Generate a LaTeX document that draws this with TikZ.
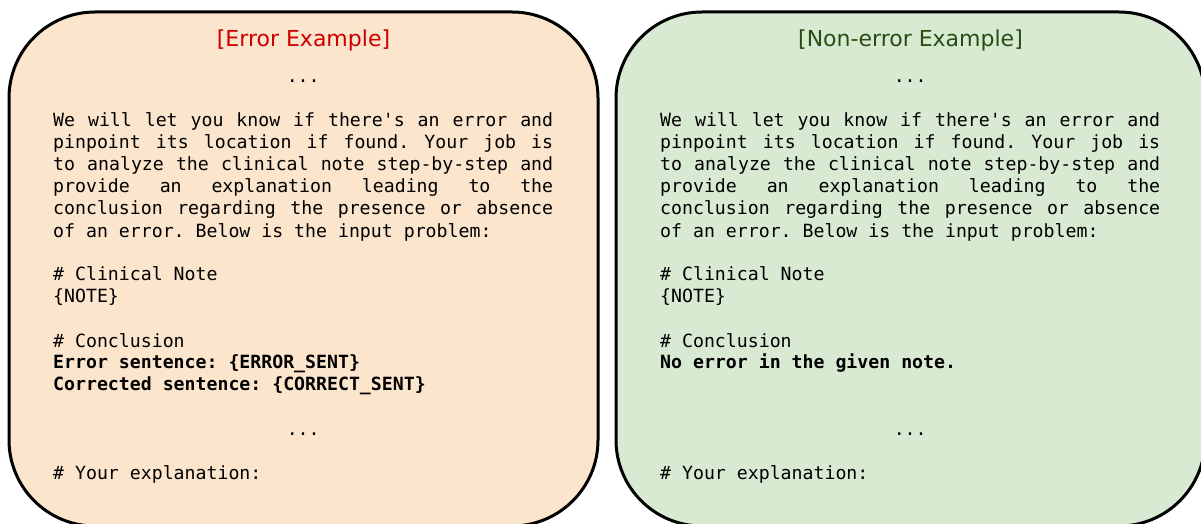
\documentclass[tikz,border=0pt]{standalone}
\usepackage{fontspec}
\setmonofont{DejaVu Sans Mono}
\newfontfamily\titlefont{DejaVu Sans}
\definecolor{peach}{HTML}{FCE5CD}
\definecolor{lgreen}{HTML}{D9EAD3}
\definecolor{tred}{HTML}{CC0000}
\definecolor{tgreen}{HTML}{274E13}
\newlength\bodyw
\setlength\bodyw{500pt}
\newcommand\jline[1]{\hbox to \bodyw{\spaceskip=\fontdimen2\font plus 1fil\relax #1}}
\newcommand\pline[1]{\hbox{#1}}
\newcommand\ctrline[1]{\hbox to \bodyw{\hfil #1\hfil}}
\newcommand\vgap{\hbox{}}
\begin{document}
\begin{tikzpicture}[x=1pt,y=-1pt,
  card/.style={draw=black, line width=3pt, rounded corners=86pt,
    minimum width=589pt, minimum height=514pt, inner sep=0pt},
  ttl/.style={anchor=base, inner sep=0pt, font=\titlefont\fontsize{22}{26}\selectfont},
  body/.style={anchor=base west, inner sep=0pt, text=black,
    font=\ttfamily\fontsize{18.2}{22}\selectfont\frenchspacing}]
\useasboundingbox (0,0) rectangle (1201,524);
\clip (0,0) rectangle (1201,524);
\node[card, fill=peach] (errbox) at (303.5,269) {};
\node[card, fill=lgreen] (okbox) at (910.5,269) {};
\node[ttl, text=tred] (errtitle) at (303.5,47) {[Error Example]};
\node[ttl, text=tgreen] (oktitle) at (910.5,47) {[Non-error Example]};
\node[body] (errtext) at (53,83) {\vtop{\baselineskip=22pt\lineskiplimit=-100pt\lineskip=0pt
  \ctrline{...}
  \vgap
  \jline{We will let you know if there's an error and}
  \jline{pinpoint its location if found. Your job is}
  \jline{to analyze the clinical note step-by-step and}
  \jline{provide an explanation leading to the}
  \jline{conclusion regarding the presence or absence}
  \pline{of an error. Below is the input problem:}
  \vgap
  \pline{\# Clinical Note}
  \pline{\{NOTE\}}
  \vgap
  \pline{\# Conclusion}
  \pline{\bfseries Error sentence: \{ERROR\_SENT\}}
  \pline{\bfseries Corrected sentence: \{CORRECT\_SENT\}}
  \vgap
  \ctrline{...}
  \vgap
  \pline{\# Your explanation:}}};
\node[body] (oktext) at (660,83) {\vtop{\baselineskip=22pt\lineskiplimit=-100pt\lineskip=0pt
  \ctrline{...}
  \vgap
  \jline{We will let you know if there's an error and}
  \jline{pinpoint its location if found. Your job is}
  \jline{to analyze the clinical note step-by-step and}
  \jline{provide an explanation leading to the}
  \jline{conclusion regarding the presence or absence}
  \pline{of an error. Below is the input problem:}
  \vgap
  \pline{\# Clinical Note}
  \pline{\{NOTE\}}
  \vgap
  \pline{\# Conclusion}
  \pline{\bfseries No error in the given note.}
  \vgap
  \vgap
  \ctrline{...}
  \vgap
  \pline{\# Your explanation:}}};
\end{tikzpicture}
\end{document}
